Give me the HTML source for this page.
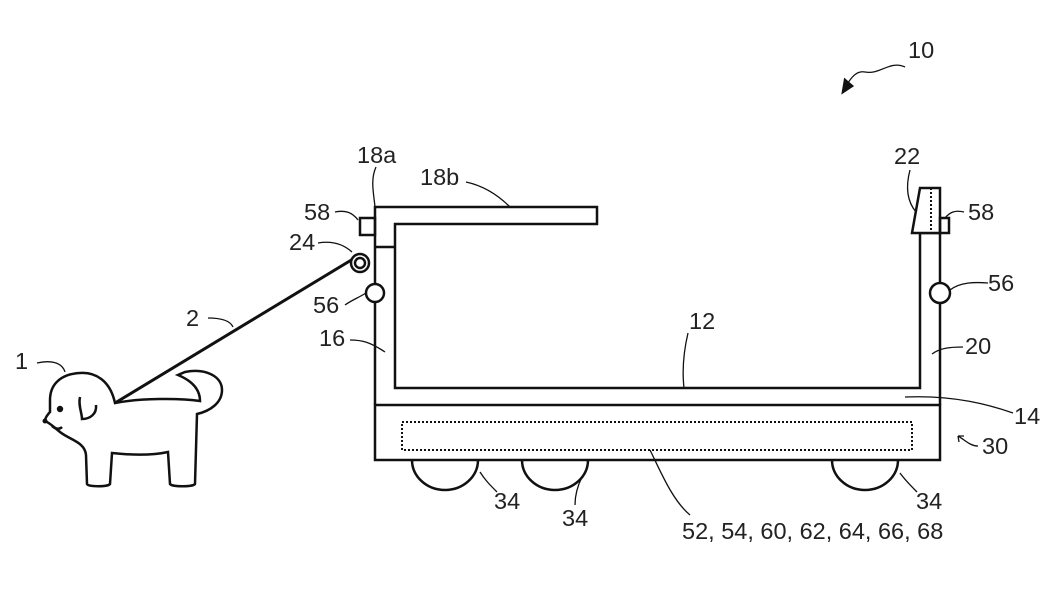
<!DOCTYPE html>
<html><head><meta charset="utf-8"><style>
html,body{margin:0;padding:0;background:#fff;}
svg{display:block;}
text{font-family:"Liberation Sans",sans-serif;font-size:23.5px;fill:#222;}
</style></head><body>
<svg width="1049" height="590" viewBox="0 0 1049 590" xmlns="http://www.w3.org/2000/svg">
<g fill="none" stroke="#111" stroke-width="2.5">
<path d="M412,460 A33,30 0 0 0 478,460"/>
<path d="M522,460 A33,30 0 0 0 588,460"/>
<path d="M832,460 A33,30 0 0 0 898,460"/>
<rect x="375" y="405" width="565" height="55" fill="#fff"/>
<rect x="402" y="422" width="510" height="28" stroke-dasharray="2,2" stroke-width="2"/>
<path d="M375,405 L375,207 L597,207 L597,224 L395,224 L395,388 L920,388 L920,233 L940,233 L940,405"/>
<line x1="375" y1="247" x2="395" y2="247"/>
<path d="M920,188 L940,188 L940,233 L912,233 Z" fill="#fff"/>
<line x1="931" y1="188" x2="931" y2="233" stroke-dasharray="2,2" stroke-width="2"/>
<rect x="940" y="218" width="9" height="15"/>
<rect x="360" y="218" width="15" height="17"/>
<line x1="115" y1="403" x2="353" y2="259" stroke-width="3"/>
<circle cx="360" cy="263" r="9" fill="#fff"/>
<circle cx="360" cy="263" r="5"/>
<circle cx="375" cy="293" r="9" fill="#fff"/>
<circle cx="940" cy="293" r="10" fill="#fff"/>
<path d="M115,403 C110,380 95,372 80,373 C60,374 50,385 50,400 L50,412 C48,414 45,418 45,421 C50,423 55,428 60,432 C70,440 85,442 86,455 L87,484 C88,487 108,487 110,484 L112,453 C130,455 150,456 168,452 L170,484 C172,487 193,487 195,484 L197,414 C210,411 222,403 222,390 C222,376 205,368 185,372 L178,375 C190,380 200,388 200,401 C180,398 140,398 115,403 Z"/>
<path d="M80,397 C78,405 82,413 82,419 C90,419 97,414 96,405"/>
<path d="M52,426 Q58,431 62,427"/>
<g stroke-width="1.3">
<path d="M37,363 C50,360 62,362 65,372"/>
<path d="M208,318 C220,318 230,320 233,327"/>
<path d="M335,212 C345,210 352,212 358,220"/>
<path d="M318,243 C330,241 342,243 352,252"/>
<path d="M345,305 C352,300 358,298 366,293"/>
<path d="M350,340 C362,340 370,342 385,352"/>
<path d="M376,167 C370,180 374,195 375,207"/>
<path d="M466,182 C480,185 495,192 510,207"/>
<path d="M910,170 C906,185 906,200 916,212"/>
<path d="M964,212 C955,210 950,212 945,218"/>
<path d="M988,283 C975,282 960,282 950,290"/>
<path d="M963,347 C950,347 940,348 932,354"/>
<path d="M1013,413 C990,405 955,395 905,397"/>
<path d="M688,333 C684,350 682,370 684,388"/>
<path d="M650,450 C660,470 672,500 690,515"/>
<path d="M497,492 C490,485 485,480 480,472"/>
<path d="M575,505 C575,495 578,485 582,477"/>
<path d="M917,492 C910,485 905,480 900,473"/>
<path d="M978,446 C970,446 965,440 958,436 M958,436 l1,6 M958,436 l6,0"/>
<path d="M905,67 C890,60 880,75 865,72 C855,70 850,80 843,90"/>
</g>
<path d="M843,92 L845,80 L852,86 Z" fill="#111"/>
</g>
<circle cx="60" cy="409" r="3.2" fill="#111"/>
<circle cx="45" cy="421" r="2.5" fill="#111"/>
<text x="908" y="58">10</text>
<text x="357" y="163">18a</text>
<text x="420" y="185">18b</text>
<text x="304" y="220">58</text>
<text x="289" y="250">24</text>
<text x="313" y="313">56</text>
<text x="186" y="326">2</text>
<text x="319" y="346">16</text>
<text x="15" y="369">1</text>
<text x="689" y="329">12</text>
<text x="894" y="164">22</text>
<text x="968" y="220">58</text>
<text x="988" y="291">56</text>
<text x="965" y="354">20</text>
<text x="1014" y="424">14</text>
<text x="982" y="454">30</text>
<text x="494" y="509">34</text>
<text x="562" y="526">34</text>
<text x="916" y="509">34</text>
<text x="682" y="539">52, 54, 60, 62, 64, 66, 68</text>
</svg>
</body></html>
